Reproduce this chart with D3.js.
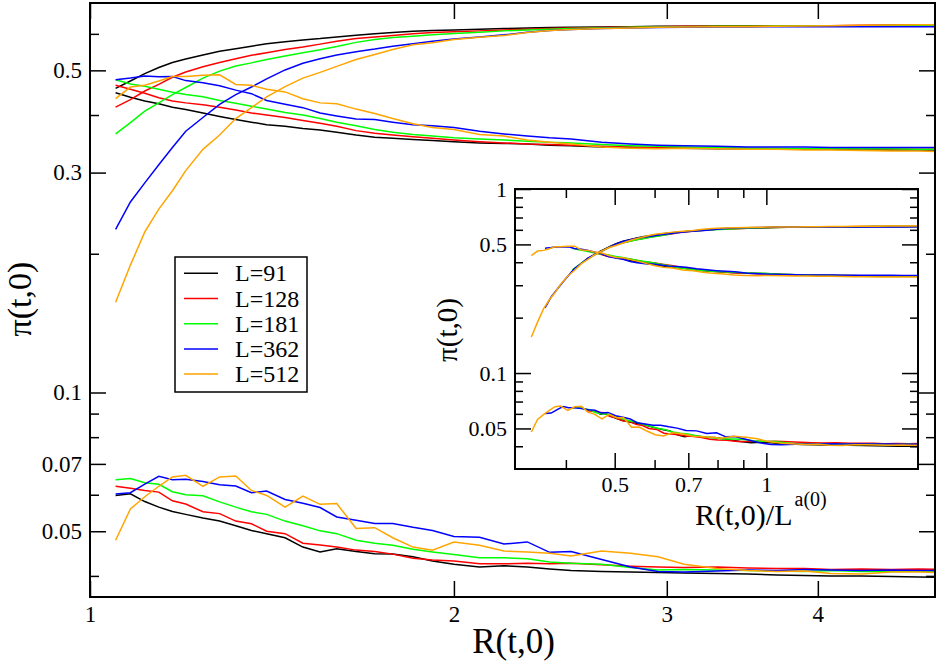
<!DOCTYPE html>
<html>
<head>
<meta charset="utf-8">
<script src="https://cdn.jsdelivr.net/npm/d3@7"></script>
<style>
	body { margin: 0; background: #fff; }
	svg text { font-family: "Liberation Serif", "Times New Roman", "DejaVu Serif", serif; }
</style>
</head>
<body>
<svg id="chart" width="938" height="664"></svg>
<script>
// system sizes and their colours
const sizes = [91, 128, 181, 362, 512];
const colors = ["#000000", "#ff0000", "#00ff00", "#0000ff", "#ffa500"];
// scaling exponent a(0) used for the inset abscissa
const aExp = 0.18;

// R(t,0) sampling points (shared by all curves)
const R = [
	1.05, 1.08, 1.11, 1.14, 1.17, 1.2, 1.24, 1.28, 1.32, 1.36,
	1.4, 1.45, 1.5, 1.55, 1.6, 1.66, 1.72, 1.78, 1.85, 1.92,
	2.0, 2.1, 2.2, 2.3, 2.4, 2.5, 2.65, 2.8, 2.95, 3.1,
	3.3, 3.5, 3.7, 3.9, 4.1, 4.35, 4.6, 4.85, 5.1, 5.4,
	5.7, 6.0, 6.3,
];

// rising branch, one row per L
const piUpper = [
	[0.457, 0.474, 0.492, 0.507, 0.520, 0.529, 0.540, 0.550, 0.557, 0.564,
	 0.571, 0.577, 0.582, 0.586, 0.591, 0.596, 0.600, 0.604, 0.608, 0.610,
	 0.612, 0.614, 0.616, 0.618, 0.619, 0.620, 0.621, 0.622, 0.623, 0.623,
	 0.624, 0.624, 0.625, 0.625, 0.625, 0.625, 0.626, 0.626, 0.626, 0.626,
	 0.627, 0.627, 0.627],
	[0.416, 0.432, 0.451, 0.466, 0.483, 0.496, 0.509, 0.520, 0.530, 0.539,
	 0.546, 0.555, 0.562, 0.570, 0.578, 0.586, 0.591, 0.595, 0.600, 0.604,
	 0.606, 0.609, 0.612, 0.614, 0.616, 0.618, 0.619, 0.621, 0.622, 0.623,
	 0.624, 0.624, 0.625, 0.625, 0.625, 0.626, 0.626, 0.626, 0.626, 0.627,
	 0.627, 0.627, 0.627],
	[0.364, 0.385, 0.408, 0.425, 0.443, 0.459, 0.481, 0.498, 0.511, 0.519,
	 0.528, 0.537, 0.546, 0.554, 0.563, 0.575, 0.583, 0.589, 0.593, 0.597,
	 0.601, 0.605, 0.609, 0.612, 0.614, 0.616, 0.618, 0.620, 0.621, 0.622,
	 0.623, 0.623, 0.624, 0.624, 0.625, 0.625, 0.625, 0.625, 0.626, 0.626,
	 0.626, 0.626, 0.626],
	[0.226, 0.259, 0.285, 0.312, 0.340, 0.369, 0.395, 0.422, 0.443, 0.460,
	 0.479, 0.501, 0.518, 0.530, 0.540, 0.549, 0.556, 0.564, 0.571, 0.578,
	 0.585, 0.591, 0.597, 0.605, 0.610, 0.613, 0.616, 0.618, 0.619, 0.620,
	 0.621, 0.621, 0.622, 0.622, 0.622, 0.622, 0.622, 0.622, 0.622, 0.622,
	 0.623, 0.622, 0.622],
	[0.157, 0.189, 0.223, 0.250, 0.274, 0.303, 0.337, 0.362, 0.393, 0.415,
	 0.438, 0.461, 0.481, 0.495, 0.510, 0.528, 0.541, 0.555, 0.568, 0.574,
	 0.583, 0.590, 0.595, 0.604, 0.610, 0.613, 0.616, 0.618, 0.620, 0.621,
	 0.622, 0.622, 0.623, 0.624, 0.625, 0.626, 0.627, 0.628, 0.628, 0.629,
	 0.629, 0.629, 0.630],
];

// falling branch
const piMiddle = [
	[0.447, 0.437, 0.429, 0.423, 0.416, 0.411, 0.404, 0.397, 0.391, 0.386,
	 0.381, 0.378, 0.374, 0.371, 0.367, 0.362, 0.358, 0.356, 0.354, 0.352,
	 0.350, 0.348, 0.347, 0.346, 0.344, 0.343, 0.341, 0.340, 0.339, 0.339,
	 0.338, 0.338, 0.337, 0.337, 0.337, 0.336, 0.336, 0.336, 0.336, 0.335,
	 0.335, 0.335, 0.335],
	[0.464, 0.455, 0.446, 0.436, 0.429, 0.425, 0.421, 0.416, 0.410, 0.404,
	 0.400, 0.395, 0.389, 0.384, 0.378, 0.370, 0.365, 0.362, 0.359, 0.356,
	 0.353, 0.350, 0.348, 0.346, 0.345, 0.344, 0.342, 0.341, 0.340, 0.340,
	 0.339, 0.339, 0.338, 0.338, 0.338, 0.338, 0.337, 0.337, 0.337, 0.337,
	 0.337, 0.336, 0.336],
	[0.477, 0.467, 0.462, 0.455, 0.448, 0.443, 0.438, 0.430, 0.424, 0.418,
	 0.412, 0.405, 0.400, 0.393, 0.386, 0.379, 0.372, 0.367, 0.363, 0.360,
	 0.357, 0.355, 0.353, 0.351, 0.349, 0.348, 0.345, 0.343, 0.342, 0.341,
	 0.340, 0.339, 0.339, 0.338, 0.338, 0.338, 0.338, 0.337, 0.337, 0.337,
	 0.337, 0.337, 0.337],
	[0.477, 0.481, 0.486, 0.484, 0.485, 0.475, 0.470, 0.463, 0.453, 0.445,
	 0.430, 0.422, 0.415, 0.404, 0.398, 0.392, 0.391, 0.386, 0.381, 0.379,
	 0.376, 0.369, 0.364, 0.360, 0.357, 0.355, 0.349, 0.346, 0.344, 0.343,
	 0.342, 0.341, 0.341, 0.341, 0.340, 0.340, 0.340, 0.340, 0.340, 0.339,
	 0.339, 0.339, 0.339],
	[0.434, 0.460, 0.464, 0.474, 0.485, 0.485, 0.488, 0.489, 0.466, 0.464,
	 0.455, 0.449, 0.434, 0.425, 0.423, 0.412, 0.403, 0.393, 0.383, 0.376,
	 0.372, 0.363, 0.360, 0.353, 0.349, 0.346, 0.341, 0.339, 0.338, 0.339,
	 0.338, 0.337, 0.337, 0.336, 0.336, 0.335, 0.334, 0.334, 0.333, 0.333,
	 0.333, 0.333, 0.332],
];

// small branch near 0.05
const piLower = [
	[0.0598, 0.0603, 0.0580, 0.0564, 0.0552, 0.0544, 0.0534, 0.0526, 0.0514, 0.0502,
	 0.0494, 0.0484, 0.0462, 0.0451, 0.0458, 0.0452, 0.0447, 0.0446, 0.0440, 0.0431,
	 0.0424, 0.0418, 0.0421, 0.0418, 0.0414, 0.0411, 0.0409, 0.0408, 0.0407, 0.0406,
	 0.0405, 0.0404, 0.0402, 0.0401, 0.0400, 0.0400, 0.0399, 0.0398, 0.0397, 0.0397,
	 0.0396, 0.0396, 0.0395],
	[0.0626, 0.0620, 0.0613, 0.0608, 0.0582, 0.0573, 0.0551, 0.0546, 0.0526, 0.0519,
	 0.0500, 0.0494, 0.0471, 0.0467, 0.0462, 0.0455, 0.0452, 0.0446, 0.0437, 0.0433,
	 0.0431, 0.0425, 0.0425, 0.0426, 0.0425, 0.0426, 0.0423, 0.0420, 0.0418, 0.0417,
	 0.0418, 0.0416, 0.0415, 0.0415, 0.0413, 0.0414, 0.0413, 0.0414, 0.0413, 0.0412,
	 0.0413, 0.0412, 0.0412],
	[0.0647, 0.0651, 0.0637, 0.0632, 0.0609, 0.0600, 0.0597, 0.0579, 0.0564, 0.0551,
	 0.0544, 0.0526, 0.0514, 0.0501, 0.0494, 0.0478, 0.0471, 0.0466, 0.0457, 0.0451,
	 0.0445, 0.0438, 0.0438, 0.0436, 0.0429, 0.0426, 0.0424, 0.0417, 0.0412, 0.0413,
	 0.0412, 0.0411, 0.0410, 0.0409, 0.0411, 0.0409, 0.0409, 0.0410, 0.0409, 0.0409,
	 0.0408, 0.0409, 0.0408],
	[0.0602, 0.0606, 0.0633, 0.0658, 0.0647, 0.0648, 0.0641, 0.0631, 0.0627, 0.0606,
	 0.0611, 0.0586, 0.0575, 0.0563, 0.0537, 0.0528, 0.0520, 0.0520, 0.0510, 0.0502,
	 0.0487, 0.0485, 0.0469, 0.0474, 0.0450, 0.0452, 0.0434, 0.0418, 0.0409, 0.0408,
	 0.0410, 0.0412, 0.0411, 0.0413, 0.0412, 0.0411, 0.0412, 0.0411, 0.0411, 0.0410,
	 0.0410, 0.0410, 0.0410],
	[0.0478, 0.0559, 0.0594, 0.0626, 0.0656, 0.0661, 0.0626, 0.0656, 0.0659, 0.0613,
	 0.0598, 0.0564, 0.0596, 0.0572, 0.0574, 0.0507, 0.0509, 0.0484, 0.0462, 0.0455,
	 0.0474, 0.0466, 0.0453, 0.0451, 0.0448, 0.0442, 0.0453, 0.0448, 0.0440, 0.0424,
	 0.0415, 0.0411, 0.0409, 0.0410, 0.0405, 0.0404, 0.0408, 0.0408, 0.0406, 0.0405,
	 0.0406, 0.0405, 0.0405],
];

// tick values
const mainXMajor = [1, 2, 3, 4];
const mainYMajor = [0.05, 0.07, 0.1, 0.3, 0.5];
const mainYMinor = [0.04, 0.06, 0.08, 0.09, 0.2, 0.4, 0.6];
const insetXMajor = [0.5, 0.7, 1];
const insetXMinor = [0.4, 0.6, 0.8, 0.9];
const insetYMajor = [0.05, 0.1, 0.5, 1];
const insetYMinor = [0.04, 0.06, 0.07, 0.08, 0.09, 0.2, 0.3, 0.4, 0.6, 0.7, 0.8, 0.9];

const serif = '"Liberation Serif", "Times New Roman", serif';
const svg = d3.select("#chart");

const series = [];
sizes.forEach((L, i) => {
	[piUpper, piMiddle, piLower].forEach((b) => {
		series.push({ L, color: colors[i], values: b[i] });
	});
});

// draws ticks pointing inward, optionally labelled
function ticks(g, axis, values, size, fontSize, labelled, pad) {
	g.call(
		axis
			.tickValues(values)
			.tickSizeInner(-size)
			.tickSizeOuter(0)
			.tickPadding(pad || 8)
			.tickFormat(labelled ? (d) => String(d) : () => ""),
	);
	g.select(".domain").remove();
	g.selectAll(".tick line").attr("stroke", "#000").attr("stroke-width", 1.5);
	g.attr("font-size", fontSize)
		.attr("font-family", serif)
		.selectAll("text")
		.attr("fill", "#000");
}

// ---------- main panel ----------
const m = { left: 90, right: 935, top: 3, bottom: 597 };
const x = d3.scaleLog().domain([1, 5]).range([m.left, m.right]);
const y = d3.scaleLog().domain([0.036, 0.7]).range([m.bottom, m.top]);

svg.append("clipPath")
	.attr("id", "clipMain")
	.append("rect")
	.attr("x", m.left)
	.attr("y", m.top)
	.attr("width", m.right - m.left)
	.attr("height", m.bottom - m.top);

const mainLine = d3
	.line()
	.x((d, j) => x(R[j]))
	.y((d) => y(d));

svg.append("g")
	.attr("clip-path", "url(#clipMain)")
	.selectAll("path")
	.data(series)
	.join("path")
	.attr("fill", "none")
	.attr("stroke", (d) => d.color)
	.attr("stroke-width", 1.5)
	.attr("d", (d) => mainLine(d.values));

ticks(svg.append("g").attr("transform", `translate(0,${m.bottom})`), d3.axisBottom(x), mainXMajor, 16, 23, true, 9);
ticks(svg.append("g").attr("transform", `translate(0,${m.top})`), d3.axisTop(x), mainXMajor, 16, 23, false);
ticks(svg.append("g").attr("transform", `translate(${m.left},0)`), d3.axisLeft(y), mainYMajor, 16, 23, true, 8);
ticks(svg.append("g").attr("transform", `translate(${m.left},0)`), d3.axisLeft(y), mainYMinor, 9, 23, false);
ticks(svg.append("g").attr("transform", `translate(${m.right},0)`), d3.axisRight(y), mainYMajor, 16, 23, false);
ticks(svg.append("g").attr("transform", `translate(${m.right},0)`), d3.axisRight(y), mainYMinor, 9, 23, false);

svg.append("rect")
	.attr("x", m.left)
	.attr("y", m.top)
	.attr("width", m.right - m.left)
	.attr("height", m.bottom - m.top)
	.attr("fill", "none")
	.attr("stroke", "#000")
	.attr("stroke-width", 2);

svg.append("text")
	.attr("transform", "translate(31,299) rotate(-90)")
	.attr("text-anchor", "middle")
	.attr("font-family", serif)
	.attr("font-size", 34)
	.text("π(t,0)");

svg.append("text")
	.attr("x", (m.left + m.right) / 2 + 1)
	.attr("y", 653)
	.attr("text-anchor", "middle")
	.attr("font-family", serif)
	.attr("font-size", 35)
	.text("R(t,0)");

// legend
const legend = svg.append("g");
legend.append("rect")
	.attr("x", 175)
	.attr("y", 257)
	.attr("width", 132)
	.attr("height", 135)
	.attr("fill", "#fff")
	.attr("stroke", "#000")
	.attr("stroke-width", 1.5);
const items = legend
	.selectAll("g")
	.data(sizes)
	.join("g")
	.attr("transform", (d, i) => `translate(0,${273.3 + i * 25.2})`);
items.append("line")
	.attr("x1", 184)
	.attr("x2", 218)
	.attr("stroke", (d, i) => colors[i])
	.attr("stroke-width", 1.5);
items.append("text")
	.attr("x", 235)
	.attr("y", 8)
	.attr("font-family", serif)
	.attr("font-size", 24)
	.text((d) => `L=${d}`);

// ---------- inset ----------
const n = { left: 515, right: 918, top: 189, bottom: 469 };
const xi = d3.scaleLog().domain([0.317, 2]).range([n.left, n.right]);
const yi = d3.scaleLog().domain([0.0301, 1]).range([n.bottom, n.top]);

svg.append("rect")
	.attr("x", n.left)
	.attr("y", n.top)
	.attr("width", n.right - n.left)
	.attr("height", n.bottom - n.top)
	.attr("fill", "#fff");

svg.append("clipPath")
	.attr("id", "clipInset")
	.append("rect")
	.attr("x", n.left)
	.attr("y", n.top)
	.attr("width", n.right - n.left)
	.attr("height", n.bottom - n.top);

svg.append("g")
	.attr("clip-path", "url(#clipInset)")
	.selectAll("path")
	.data(series)
	.join("path")
	.attr("fill", "none")
	.attr("stroke", (d) => d.color)
	.attr("stroke-width", 1.5)
	.attr("d", (s) =>
		d3
			.line()
			.x((d, j) => xi(R[j] / Math.pow(s.L, aExp)))
			.y((d) => yi(d))(s.values),
	);

ticks(svg.append("g").attr("transform", `translate(0,${n.bottom})`), d3.axisBottom(xi), insetXMajor, 16, 22, true, 7);
ticks(svg.append("g").attr("transform", `translate(0,${n.bottom})`), d3.axisBottom(xi), insetXMinor, 9, 22, false);
ticks(svg.append("g").attr("transform", `translate(0,${n.top})`), d3.axisTop(xi), insetXMajor, 16, 22, false);
ticks(svg.append("g").attr("transform", `translate(0,${n.top})`), d3.axisTop(xi), insetXMinor, 9, 22, false);
ticks(svg.append("g").attr("transform", `translate(${n.left},0)`), d3.axisLeft(yi), insetYMajor, 16, 22, true, 8);
ticks(svg.append("g").attr("transform", `translate(${n.left},0)`), d3.axisLeft(yi), insetYMinor, 8, 22, false);
ticks(svg.append("g").attr("transform", `translate(${n.right},0)`), d3.axisRight(yi), insetYMajor, 16, 22, false);
ticks(svg.append("g").attr("transform", `translate(${n.right},0)`), d3.axisRight(yi), insetYMinor, 8, 22, false);

svg.append("rect")
	.attr("x", n.left)
	.attr("y", n.top)
	.attr("width", n.right - n.left)
	.attr("height", n.bottom - n.top)
	.attr("fill", "none")
	.attr("stroke", "#000")
	.attr("stroke-width", 2);

svg.append("text")
	.attr("transform", "translate(457,330) rotate(-90)")
	.attr("text-anchor", "middle")
	.attr("font-family", serif)
	.attr("font-size", 29)
	.text("π(t,0)");

const xlab = svg.append("text")
	.attr("x", 695)
	.attr("y", 525)
	.attr("font-family", serif)
	.attr("font-size", 30);
xlab.append("tspan").text("R(t,0)/L");
xlab.append("tspan").attr("dx", 2).attr("dy", -19).attr("font-size", 20).text("a(0)");
</script>
</body>
</html>
